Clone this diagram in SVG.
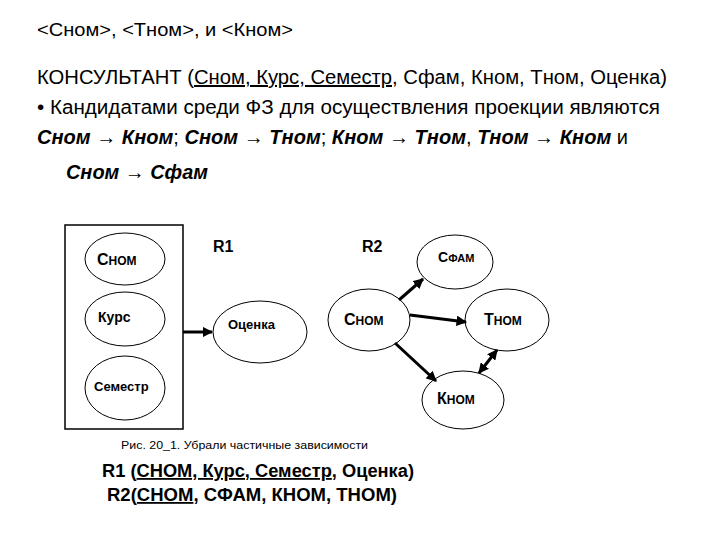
<svg xmlns="http://www.w3.org/2000/svg" width="720" height="540" viewBox="0 0 720 540">
<style>
.t{font-family:"Liberation Sans",Arial,sans-serif;fill:#000}
.b{font-weight:bold}
.e{fill:#fff;stroke:#000;stroke-width:1}
.c{stroke:#000;stroke-width:3;fill:none}
</style>
<defs>
<marker id="a" viewBox="0 0 10 10" refX="9" refY="5" markerWidth="3.5" markerHeight="3.5" orient="auto-start-reverse"><path d="M0,0L10,5L0,10z"/></marker>
</defs>
<rect width="720" height="540" fill="#fff"/>
<text class="t" x="37" y="36" font-size="18" textLength="256" lengthAdjust="spacingAndGlyphs">&lt;Сном&gt;, &lt;Тном&gt;, и &lt;Кном&gt;</text>
<text class="t" x="37" y="84" font-size="20" textLength="630" lengthAdjust="spacingAndGlyphs">КОНСУЛЬТАНТ (<tspan text-decoration="underline">Сном, Курс, Семестр,</tspan> Сфам, Кном, Тном, Оценка)</text>
<text class="t" x="37" y="114" font-size="20" textLength="623" lengthAdjust="spacingAndGlyphs">•   Кандидатами среди ФЗ для осуществления проекции являются</text>
<text class="t" x="37" y="144" font-size="20" textLength="591" lengthAdjust="spacingAndGlyphs"><tspan class="b" font-style="italic">Сном → Кном</tspan>; <tspan class="b" font-style="italic">Сном → Тном</tspan>; <tspan class="b" font-style="italic">Кном → Тном</tspan>, <tspan class="b" font-style="italic">Тном → Кном</tspan> и</text>
<text class="t b" x="66" y="179" font-size="20" font-style="italic" textLength="142" lengthAdjust="spacingAndGlyphs">Сном → Сфам</text>

<g id="box"><rect x="65" y="225" width="118" height="204" fill="none" stroke="#000" stroke-width="1.5"/></g>
<g id="n-snom1"><ellipse class="e" cx="125" cy="259" rx="40" ry="26"/><text class="t b" x="97" y="265" font-size="16">С<tspan font-size="12">НОМ</tspan></text></g>
<g id="n-kurs"><ellipse class="e" cx="125" cy="319" rx="40" ry="27"/><text class="t b" x="98" y="322" font-size="14">Курс</text></g>
<g id="n-sem"><ellipse class="e" cx="125" cy="388" rx="40" ry="32"/><text class="t b" x="94" y="391" font-size="13">Семестр</text></g>
<g id="n-ocenka"><ellipse class="e" cx="260" cy="332" rx="47" ry="31"/><text class="t b" x="228" y="329" font-size="13">Оценка</text></g>
<text class="t b" x="213" y="252" font-size="16">R1</text>
<text class="t b" x="362" y="252" font-size="16">R2</text>
<g id="n-sfam"><ellipse class="e" cx="455" cy="262" rx="38" ry="27"/><text class="t b" x="438" y="262" font-size="14">С<tspan font-size="11">ФАМ</tspan></text></g>
<g id="n-snom2"><ellipse class="e" cx="369" cy="320" rx="41" ry="31"/><text class="t b" x="344" y="325" font-size="16">С<tspan font-size="12">НОМ</tspan></text></g>
<g id="n-tnom"><ellipse class="e" cx="507" cy="320" rx="42" ry="31"/><text class="t b" x="484" y="325" font-size="16">Т<tspan font-size="12">НОМ</tspan></text></g>
<g id="n-knom"><ellipse class="e" cx="463" cy="400" rx="41" ry="29"/><text class="t b" x="437" y="404" font-size="16">К<tspan font-size="12">НОМ</tspan></text></g>

<g id="connectors">
<line class="c" x1="183" y1="332" x2="212" y2="332" marker-end="url(#a)"/>
<line class="c" x1="399" y1="300" x2="423" y2="279" marker-end="url(#a)"/>
<line class="c" x1="410" y1="315" x2="466" y2="322" marker-end="url(#a)"/>
<line class="c" x1="395" y1="343" x2="436" y2="381" marker-end="url(#a)"/>
<line class="c" x1="479" y1="373" x2="497" y2="350" marker-start="url(#a)" marker-end="url(#a)"/>
</g>

<text class="t" x="121" y="449" font-size="11" textLength="247" lengthAdjust="spacingAndGlyphs">Рис. 20_1. Убрали частичные зависимости</text>
<text class="t b" x="102" y="477" font-size="18" textLength="312" lengthAdjust="spacingAndGlyphs">R1 (<tspan text-decoration="underline">СНОМ, Курс, Семестр</tspan>, Оценка)</text>
<text class="t b" x="107" y="501" font-size="18" textLength="290" lengthAdjust="spacingAndGlyphs">R2(<tspan text-decoration="underline">СНОМ</tspan>, СФАМ, КНОМ, ТНОМ)</text>
</svg>
